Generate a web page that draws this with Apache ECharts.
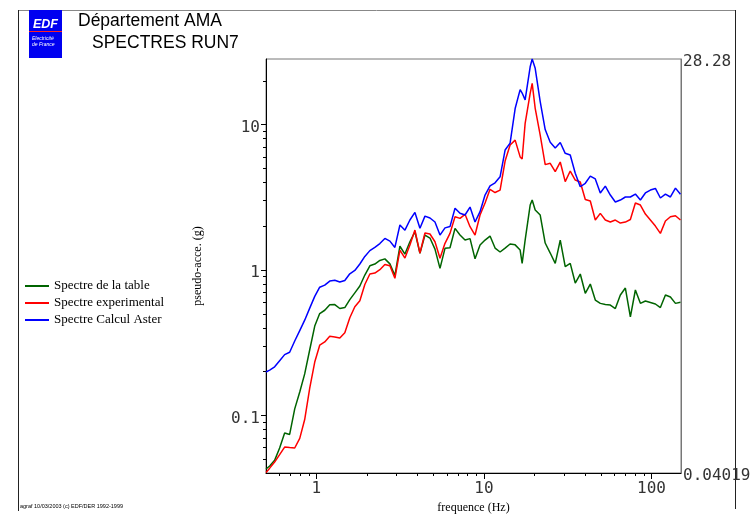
<!DOCTYPE html>
<html>
<head>
<meta charset="utf-8">
<title>SPECTRES RUN7</title>
<script src="https://cdn.jsdelivr.net/npm/echarts@6/dist/echarts.min.js"></script>
<style>
  html, body { margin: 0; padding: 0; background: #fff; }
  #chart { width: 756px; height: 514px; }
</style>
</head>
<body>
<div id="chart"></div>
<script>
// frequences (Hz) communes aux trois spectres
var freq = [0.5, 0.526, 0.563, 0.603, 0.646, 0.692, 0.742, 0.795, 0.851, 0.912,
  0.977, 1.046, 1.121, 1.201, 1.287, 1.379, 1.477, 1.582, 1.695, 1.816,
  1.945, 2.084, 2.232, 2.391, 2.562, 2.745, 2.94, 3.15, 3.375, 3.614,
  3.872, 4.148, 4.444, 4.761, 5.1, 5.464, 5.853, 6.27, 6.718, 7.194,
  7.708, 8.257, 8.845, 9.475, 10.15, 10.87, 11.65, 12.48, 13.37, 14.32,
  15.35, 16.44, 16.9, 17.61, 18.87, 19.4, 20.22, 21.66, 23.2, 24.86,
  26.63, 28.53, 30.55, 32.73, 35.07, 37.57, 40.25, 43.12, 46.19, 49.48,
  53.01, 56.79, 60.83, 65.17, 69.82, 74.8, 80.13, 85.84, 91.94, 98.49,
  105.5, 113, 121.1, 129.7, 139, 148.9]

// pseudo-acceleration (g)
var specTable = [0.0428, 0.0449, 0.0491, 0.0598, 0.0757, 0.074, 0.111, 0.145, 0.193, 0.283,
  0.412, 0.502, 0.529, 0.578, 0.579, 0.544, 0.552, 0.626, 0.697, 0.776,
  0.924, 1.069, 1.10, 1.164, 1.194, 1.103, 0.917, 1.458, 1.288, 1.565,
  1.834, 1.303, 1.741, 1.66, 1.394, 1.027, 1.41, 1.423, 1.935, 1.741,
  1.608, 1.644, 1.194, 1.485, 1.608, 1.713, 1.416, 1.33, 1.416, 1.51,
  1.49, 1.373, 1.112, 1.608, 2.80, 3.03, 2.586, 2.389, 1.534, 1.309,
  1.112, 1.608, 1.054, 1.112, 0.814, 0.939, 0.692, 0.801, 0.622, 0.590,
  0.579, 0.574, 0.5435, 0.673, 0.752, 0.477, 0.729, 0.590, 0.612, 0.598,
  0.584, 0.552, 0.673, 0.652, 0.59, 0.60]

var specExp = [0.0405, 0.0434, 0.0478, 0.0537, 0.0606, 0.0601, 0.0597, 0.0696, 0.0937, 0.154,
  0.233, 0.304, 0.320, 0.350, 0.346, 0.341, 0.370, 0.470, 0.559, 0.615,
  0.795, 0.939, 0.954, 1.006, 1.093, 1.071, 0.878, 1.373, 1.209, 1.485,
  1.884, 1.309, 1.797, 1.769, 1.565, 1.204, 1.526, 1.788, 2.325, 2.267,
  2.416, 1.986, 1.741, 2.389, 2.89, 3.594, 3.412, 3.549, 5.62, 7.24,
  7.83, 6.0, 5.8, 10.2, 16.42, 19.23, 12.94, 8.48, 5.31, 5.42,
  4.745, 5.53, 4.055, 4.797, 4.159, 4.03, 3.054, 2.983, 2.208, 2.455,
  2.208, 2.138, 2.208, 2.105, 2.138, 2.225, 2.89, 2.80, 2.428, 2.208,
  2.007, 1.788, 2.173, 2.325, 2.363, 2.208]

var specAster = [0.199, 0.205, 0.216, 0.238, 0.262, 0.272, 0.325, 0.383, 0.452, 0.547,
  0.659, 0.762, 0.787, 0.840, 0.850, 0.827, 0.847, 0.942, 0.994, 1.10,
  1.24, 1.36, 1.43, 1.52, 1.65, 1.58, 1.43, 2.04, 1.88, 2.21,
  2.49, 1.94, 2.35, 2.28, 2.14, 1.74, 1.95, 1.99, 2.66, 2.46,
  2.39, 2.71, 2.14, 2.52, 3.28, 3.79, 3.98, 4.38, 6.69, 7.47,
  12.9, 17.4, 16.5, 14.8, 25.0, 28.28, 24.4, 14.4, 9.25, 7.56,
  6.92, 7.53, 6.35, 6.18, 4.63, 3.74, 3.95, 4.43, 4.23, 3.39,
  3.78, 3.28, 2.94, 3.03, 3.18, 3.18, 3.33, 3.03, 3.39, 3.55,
  3.64, 3.13, 3.33, 3.18, 3.66, 3.32]

var seriesNames = ['Spectre de la table', 'Spectre experimental', 'Spectre Calcul Aster']
var seriesColors = ['#006400', '#ff0000', '#0000ff']

var xRange = [0.5, 150]
var yRange = [0.04019, 28.28]
var xMajorTicks = [1, 10, 100]
var xMinorTicks = [0.6, 0.7, 0.8, 0.9, 2, 3, 4, 5, 6, 7, 8, 9, 20, 30, 40, 50, 60, 70, 80, 90]
var yMajorTicks = [0.1, 1, 10]
var yMinorTicks = [0.05, 0.06, 0.07, 0.08, 0.09, 0.2, 0.3, 0.4, 0.5, 0.6, 0.7, 0.8, 0.9,
  2, 3, 4, 5, 6, 7, 8, 9, 20]

var monoFont = 'DejaVu Sans Mono'
var serifFont = 'Liberation Serif'

// libelles des axes y un peu sous la graduation, comme sur l'original
var lowLabel = { t: { fontFamily: monoFont, fontSize: 16, color: '#333', padding: [6, 0, 0, 0] } }

function pairs(vals) {
  return freq.map(function(f, i) { return [f, vals[i]] })
}

function isDecade(v) {
  var l = Math.log10(v)
  return Math.abs(l - Math.round(l)) < 1e-6
}

// axe lineaire en log10 qui ne sert qu'a poser les graduations
function tickAxis(pos, range, ticks, len) {
  return {
    type: 'value',
    position: pos,
    min: Math.log10(range[0]),
    max: Math.log10(range[1]),
    axisLine: { show: false, onZero: false },
    axisTick: {
      show: true,
      length: len,
      customValues: ticks.map(function(t) { return Math.log10(t) }),
      lineStyle: { color: '#000', width: 1 }
    },
    axisLabel: { show: false },
    splitLine: { show: false }
  }
}

var chart = echarts.init(document.getElementById('chart'))

chart.setOption({
  animation: false,
  backgroundColor: '#fff',
  title: [
    {
      text: 'Département AMA',
      left: 78,
      top: 12,
      padding: 0,
      textStyle: { fontFamily: 'Liberation Sans', fontSize: 17.5, fontWeight: 'normal', color: '#000' }
    },
    {
      text: 'SPECTRES RUN7',
      left: 92,
      top: 34,
      padding: 0,
      textStyle: { fontFamily: 'Liberation Sans', fontSize: 17.5, fontWeight: 'normal', color: '#000' }
    }
  ],
  legend: {
    orient: 'vertical',
    left: 25,
    top: 279,
    padding: 0,
    icon: 'rect',
    itemWidth: 24,
    itemHeight: 2,
    itemGap: 3,
    textStyle: { fontFamily: serifFont, fontSize: 13, color: '#000', lineHeight: 14 },
    data: seriesNames
  },
  grid: {
    left: 266,
    right: 75,
    top: 59,
    bottom: 41,
    show: true,
    borderColor: '#777',
    borderWidth: 1,
    outerBoundsMode: 'none'
  },
  xAxis: [
    {
      type: 'log',
      logBase: 10,
      min: xRange[0],
      max: xRange[1],
      position: 'bottom',
      name: 'frequence (Hz)',
      nameLocation: 'middle',
      nameGap: 26,
      nameTextStyle: { fontFamily: serifFont, fontSize: 12, color: '#000' },
      axisLine: { show: true, onZero: false, lineStyle: { color: '#000', width: 1 } },
      axisTick: { show: false },
      axisLabel: {
        margin: 8,
        fontFamily: monoFont,
        fontSize: 16,
        color: '#333',
        formatter: function(v) { return isDecade(v) ? String(Math.round(v)) : '' }
      },
      splitLine: { show: false },
      minorTick: { show: false }
    },
    tickAxis('bottom', xRange, xMajorTicks, 6),
    tickAxis('bottom', xRange, xMinorTicks, 3)
  ],
  yAxis: [
    {
      type: 'log',
      logBase: 10,
      min: yRange[0],
      max: yRange[1],
      position: 'left',
      name: 'pseudo-acce. (g)',
      nameLocation: 'middle',
      nameGap: 62,
      nameTextStyle: { fontFamily: serifFont, fontSize: 12, color: '#000' },
      axisLine: { show: true, onZero: false, lineStyle: { color: '#000', width: 1 } },
      axisTick: { show: false },
      axisLabel: {
        margin: 6,
        fontFamily: monoFont,
        fontSize: 16,
        color: '#333',
        rich: lowLabel,
        formatter: function(v) {
          if (!isDecade(v)) return ''
          return '{t|' + (v < 1 ? String(+v.toFixed(1)) : String(Math.round(v))) + '}'
        }
      },
      splitLine: { show: false },
      minorTick: { show: false }
    },
    {
      type: 'log',
      logBase: 10,
      min: yRange[0],
      max: yRange[1],
      position: 'right',
      axisLine: { show: true, onZero: false, lineStyle: { color: '#777', width: 1 } },
      axisTick: { show: false },
      axisLabel: {
        margin: 2,
        showMinLabel: true,
        showMaxLabel: true,
        fontFamily: monoFont,
        fontSize: 16,
        color: '#333',
        rich: lowLabel,
        formatter: function(v) {
          if (Math.abs(v - yRange[1]) / yRange[1] < 1e-3) return '{t|' + yRange[1] + '}'
          if (Math.abs(v - yRange[0]) / yRange[0] < 1e-3) return '{t|' + yRange[0] + '}'
          return ''
        }
      },
      splitLine: { show: false }
    },
    tickAxis('left', yRange, yMajorTicks, 5),
    tickAxis('left', yRange, yMinorTicks, 3)
  ],
  graphic: [
    { type: 'line', shape: { x1: 18, y1: 10.5, x2: 735, y2: 10.5 }, style: { stroke: '#888', lineWidth: 1 } },
    { type: 'line', shape: { x1: 18.5, y1: 10, x2: 18.5, y2: 511 }, style: { stroke: '#222', lineWidth: 1 } },
    { type: 'line', shape: { x1: 735.5, y1: 10, x2: 735.5, y2: 509 }, style: { stroke: '#222', lineWidth: 1 } },
    { type: 'rect', shape: { x: 29, y: 10, width: 33, height: 48 }, style: { fill: '#0000f0' } },
    {
      type: 'text', x: 45.5, y: 18,
      style: { text: 'EDF', fill: '#fff', font: 'italic bold 12.5px "Liberation Sans"', align: 'center', textAlign: 'center', verticalAlign: 'top', textVerticalAlign: 'top' }
    },
    { type: 'line', shape: { x1: 29, y1: 31.5, x2: 62, y2: 31.5 }, style: { stroke: '#ff2020', lineWidth: 1 } },
    {
      type: 'text', x: 32, y: 36,
      style: { text: 'Electricité', fill: '#fff', font: 'italic 5px "Liberation Sans"', verticalAlign: 'top', textVerticalAlign: 'top' }
    },
    {
      type: 'text', x: 32, y: 42,
      style: { text: 'de France', fill: '#fff', font: 'italic 5px "Liberation Sans"', verticalAlign: 'top', textVerticalAlign: 'top' }
    },
    {
      type: 'text', x: 20, y: 503,
      style: { text: 'agraf 10/03/2003 (c) EDF/DER 1992-1999', fill: '#000', font: '5.5px "Liberation Sans"', verticalAlign: 'top', textVerticalAlign: 'top' }
    }
  ],
  series: [specTable, specExp, specAster].map(function(vals, i) {
    return {
      name: seriesNames[i],
      type: 'line',
      xAxisIndex: 0,
      yAxisIndex: 0,
      showSymbol: false,
      symbol: 'none',
      smooth: false,
      color: seriesColors[i],
      lineStyle: { color: seriesColors[i], width: 1.5 },
      data: pairs(vals)
    }
  })
})
</script>
</body>
</html>
